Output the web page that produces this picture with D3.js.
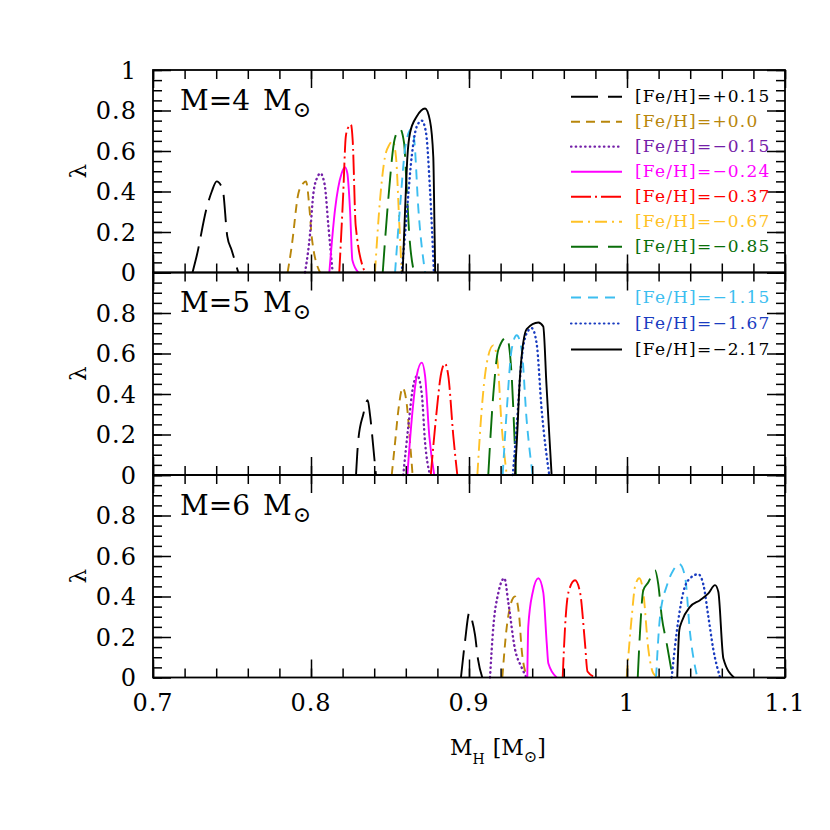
<!DOCTYPE html>
<html>
<head>
<meta charset="utf-8">
<script src="https://cdnjs.cloudflare.com/ajax/libs/d3/7.8.5/d3.min.js"></script>
<style>
  body { margin: 0; background: #fff; }
  text { font-family: "DejaVu Serif", serif; fill: #000; }
</style>
</head>
<body>
<svg id="chart" width="830" height="830"></svg>
<script>
// metallicities, in legend order
var fehLabels = ["[Fe/H]=+0.15", "[Fe/H]=+0.0", "[Fe/H]=\u22120.15", "[Fe/H]=\u22120.24",
                 "[Fe/H]=\u22120.37", "[Fe/H]=\u22120.67", "[Fe/H]=\u22120.85",
                 "[Fe/H]=\u22121.15", "[Fe/H]=\u22121.67", "[Fe/H]=\u22122.17"];
var panelMasses = [4, 5, 6];
var xTickLabels = [0.7, 0.8, 0.9, 1, 1.1];
var yTickLabels = [0, 0.2, 0.4, 0.6, 0.8, 1];

// [M_H, lambda], one list per metallicity
var m4Curves = [
  [[0.725,0],[0.7276,0.08],[0.734,0.32],[0.7372,0.40],[0.7403,0.45],[0.7441,0.41],[0.747,0.18],[0.7498,0.11],[0.754,0]],
  [[0.7852,0],[0.7878,0.13],[0.792,0.39],[0.795,0.44],[0.7968,0.45],[0.7993,0.29],[0.8004,0.18],[0.8057,0]],
  [[0.7962,0],[0.7994,0.19],[0.8015,0.39],[0.804,0.47],[0.8061,0.49],[0.8075,0.47],[0.8089,0.42],[0.811,0.23],[0.8137,0]],
  [[0.8116,0],[0.8152,0.31],[0.8194,0.49],[0.8215,0.52],[0.823,0.49],[0.8247,0.31],[0.8262,0.06],[0.830,0]],
  [[0.8179,0],[0.8204,0.39],[0.822,0.67],[0.8232,0.71],[0.8253,0.73],[0.8264,0.65],[0.8283,0.23],[0.8342,0]],
  [[0.8405,0],[0.8437,0.36],[0.8468,0.57],[0.8495,0.63],[0.8517,0.65],[0.8538,0.57],[0.8559,0.24],[0.8574,0]],
  [[0.8454,0],[0.8489,0.36],[0.853,0.66],[0.8563,0.71],[0.8589,0.64],[0.8606,0.41],[0.862,0.21],[0.8652,0]],
  [[0.8532,0],[0.8563,0.32],[0.8601,0.64],[0.8637,0.71],[0.8654,0.65],[0.8679,0.32],[0.8722,0]],
  [[0.8574,0],[0.8601,0.24],[0.8637,0.57],[0.8669,0.72],[0.8701,0.75],[0.8728,0.69],[0.8753,0.41],[0.8778,0]],
  [[0.858,0],[0.8595,0.3],[0.861,0.57],[0.8627,0.69],[0.8669,0.77],[0.8722,0.81],[0.8753,0.75],[0.8774,0.57],[0.8782,0.2],[0.8786,0]]
];
var m5Curves = [
  [[0.8285,0],[0.8299,0.17],[0.8331,0.30],[0.8359,0.37],[0.8373,0.30],[0.840,0.09],[0.8411,0]],
  [[0.8511,0],[0.8532,0.16],[0.8553,0.32],[0.858,0.43],[0.8606,0.35],[0.8627,0.16],[0.8643,0]],
  [[0.8584,0],[0.8616,0.24],[0.8647,0.44],[0.8673,0.49],[0.8701,0.40],[0.8722,0.16],[0.8753,0]],
  [[0.861,0],[0.8637,0.27],[0.8669,0.49],[0.8701,0.555],[0.8722,0.49],[0.8749,0.19],[0.878,0]],
  [[0.8758,0],[0.8796,0.32],[0.8821,0.49],[0.8848,0.55],[0.8869,0.49],[0.8901,0.19],[0.8926,0]],
  [[0.9053,0],[0.908,0.32],[0.9112,0.55],[0.9154,0.64],[0.9179,0.57],[0.9207,0.24],[0.9239,0]],
  [[0.9122,0],[0.9154,0.40],[0.9186,0.62],[0.9239,0.68],[0.927,0.49],[0.9285,0.24],[0.9297,0]],
  [[0.9213,0],[0.9239,0.32],[0.927,0.62],[0.9302,0.69],[0.9333,0.62],[0.9365,0.27],[0.9403,0]],
  [[0.9277,0],[0.9302,0.24],[0.9333,0.57],[0.9365,0.70],[0.9397,0.725],[0.9428,0.65],[0.946,0.32],[0.9508,0]],
  [[0.9291,0],[0.9305,0.20],[0.9323,0.49],[0.9365,0.72],[0.9439,0.753],[0.947,0.733],[0.949,0.45],[0.9508,0.2],[0.9523,0]]
];
var m6Curves = [
  [[0.8949,0],[0.8975,0.18],[0.9002,0.32],[0.902,0.28],[0.9038,0.21],[0.9057,0.09],[0.9084,0]],
  [[0.9211,0],[0.9239,0.25],[0.926,0.35],[0.9291,0.40],[0.9318,0.30],[0.9333,0.14],[0.9369,0]],
  [[0.9133,0],[0.9154,0.25],[0.9186,0.42],[0.9224,0.49],[0.9249,0.37],[0.9291,0.14],[0.9333,0.05],[0.9363,0]],
  [[0.9369,0],[0.9375,0.25],[0.9403,0.42],[0.9439,0.49],[0.947,0.42],[0.9492,0.17],[0.9502,0.07],[0.9555,0]],
  [[0.9593,0],[0.9608,0.25],[0.9629,0.42],[0.9671,0.48],[0.9703,0.42],[0.9734,0.17],[0.975,0.03],[0.9804,0]],
  [[0.9998,0],[1.003,0.30],[1.0051,0.45],[1.0078,0.49],[1.0103,0.42],[1.0135,0.14],[1.0167,0.02],[1.0198,0]],
  [[1.0068,0],[1.0082,0.22],[1.0103,0.43],[1.0135,0.47],[1.0177,0.53],[1.0198,0.46],[1.022,0.30],[1.0251,0.17],[1.0289,0]],
  [[1.0184,0],[1.0209,0.30],[1.0255,0.46],[1.0293,0.53],[1.0331,0.56],[1.0367,0.50],[1.0399,0.22],[1.0445,0]],
  [[1.0283,0],[1.0314,0.22],[1.0356,0.42],[1.0399,0.49],[1.0451,0.51],[1.0483,0.46],[1.0515,0.30],[1.0546,0.14],[1.0589,0]],
  [[1.0318,0],[1.0331,0.234],[1.0346,0.275],[1.0399,0.349],[1.0462,0.382],[1.0515,0.415],[1.0557,0.456],[1.0578,0.423],[1.061,0.094],[1.0677,0]]
];
var curvesByPanel = [m4Curves, m5Curves, m6Curves];

// line styles
var seriesColors = ["#000000", "#b8860b", "#7420a8", "#ff00ff", "#ff0000",
                    "#ffc125", "#0a6e0a", "#3cbef0", "#1a3cc0", "#000000"];
var seriesDashes = ["27,10", "9,6", "0.5,4.2", null, "20,4,2,4",
                    "12,5,2,5", "27,10", "10,7", "0.5,4.2", null];
var dotted = [2, 8];

var svg = d3.select("#chart");
var x = d3.scaleLinear().domain([0.7, 1.1]).range([153, 785]);
var panelH = 202.5, top0 = 70;

panelMasses.forEach(function (mass, p) {
    var y0 = top0 + p * panelH;
    var y = d3.scaleLinear().domain([0, 1]).range([y0 + panelH, y0]);
    var g = svg.append("g");

    var line = d3.line()
        .x(function (d) { return x(d[0]); })
        .y(function (d) { return y(d[1]); })
        .curve(d3.curveMonotoneX);

    curvesByPanel[p].forEach(function (pts, i) {
        var isDot = dotted.indexOf(i) >= 0;
        g.append("path")
            .attr("d", line(pts))
            .attr("fill", "none")
            .attr("stroke", seriesColors[i])
            .attr("stroke-width", isDot ? 2.4 : 1.9)
            .attr("stroke-linecap", isDot ? "round" : "butt")
            .attr("stroke-dasharray", seriesDashes[i]);
    });

    // inward ticks on all four sides
    var xMinor = d3.range(35, 56).map(function (k) { return k / 50; });
    var yMinor = d3.range(0, 21).map(function (k) { return k / 20; });
    function tickSet(axis, vals, len, tr) {
        g.append("g").attr("transform", tr)
            .call(axis.tickValues(vals).tickSize(-len).tickFormat(""))
            .call(function (s) {
                s.select(".domain").remove();
                s.selectAll("line").attr("stroke", "#000").attr("stroke-width", 1.5);
            });
    }
    tickSet(d3.axisBottom(x), xMinor, 9, "translate(0," + (y0 + panelH) + ")");
    tickSet(d3.axisBottom(x), xTickLabels, 18, "translate(0," + (y0 + panelH) + ")");
    tickSet(d3.axisTop(x), xMinor, 9, "translate(0," + y0 + ")");
    tickSet(d3.axisTop(x), xTickLabels, 18, "translate(0," + y0 + ")");
    tickSet(d3.axisLeft(y), yMinor, 9, "translate(153,0)");
    tickSet(d3.axisLeft(y), yTickLabels, 18, "translate(153,0)");
    tickSet(d3.axisRight(y), yMinor, 9, "translate(785,0)");
    tickSet(d3.axisRight(y), yTickLabels, 18, "translate(785,0)");

    g.append("rect")
        .attr("x", 153).attr("y", y0)
        .attr("width", 785 - 153).attr("height", panelH)
        .attr("fill", "none").attr("stroke", "#000").attr("stroke-width", 1.8);

    // y tick labels
    g.selectAll("text.ylab")
        .data(yTickLabels.filter(function (v) { return p === 0 || v < 1; }))
        .enter().append("text")
        .attr("class", "ylab")
        .attr("x", 137).attr("y", function (v) { return y(v) + 8.5; })
        .attr("text-anchor", "end")
        .style("font-size", "24px").style("letter-spacing", "1px")
        .text(function (v) { return String(v); });

    // lambda
    g.append("text")
        .attr("transform", "translate(78," + (y0 + panelH / 2) + ") rotate(-90)")
        .attr("text-anchor", "middle").attr("dy", "0.35em")
        .style("font-size", "23px")
        .text("\u03bb");

    // panel label  M=4 M_sun
    var lab = g.append("text").attr("x", 180).attr("y", y0 + 39.5).style("font-size", "28px");
    lab.append("tspan").text("M=" + mass);
    lab.append("tspan").attr("x", 263).text("M");
    lab.append("tspan").attr("dy", 7).attr("dx", 1).style("font-size", "22px").text("\u2299");
});

// legend: first seven rows in top panel, last three in middle
fehLabels.forEach(function (lbl, i) {
    var base = i < 7 ? 101.7 + 25 * i : 302.5 + 26 * (i - 7);
    var isDot = dotted.indexOf(i) >= 0;
    svg.append("line")
        .attr("x1", 571).attr("x2", 622)
        .attr("y1", base - 5).attr("y2", base - 5)
        .attr("stroke", seriesColors[i])
        .attr("stroke-width", isDot ? 2.2 : 1.9)
        .attr("stroke-linecap", isDot ? "round" : "butt")
        .attr("stroke-dasharray", seriesDashes[i]);
    svg.append("text")
        .attr("x", 635).attr("y", base)
        .style("font-size", "17px").style("letter-spacing", "1.2px")
        .style("fill", seriesColors[i])
        .text(lbl);
});

// x tick labels
svg.selectAll("text.xlab")
    .data(xTickLabels)
    .enter().append("text")
    .attr("class", "xlab")
    .attr("x", function (v) { return x(v); }).attr("y", 711)
    .attr("text-anchor", "middle")
    .style("font-size", "24px").style("letter-spacing", "1px")
    .text(function (v) { return String(v); });

// x axis title  M_H [M_sun]
var xt = svg.append("text").attr("x", 450).attr("y", 755).style("font-size", "22px");
xt.append("tspan").text("M");
xt.append("tspan").attr("dy", 9).style("font-size", "14px").text("H");
xt.append("tspan").attr("dy", -9).attr("dx", 8).text("[M");
xt.append("tspan").attr("dy", 7).style("font-size", "16px").text("\u2299");
xt.append("tspan").attr("dy", -7).text("]");
</script>
</body>
</html>
